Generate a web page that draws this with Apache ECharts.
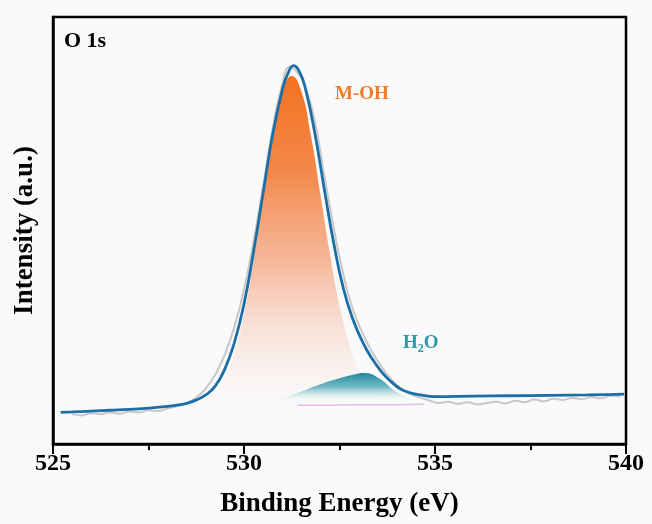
<!DOCTYPE html>
<html>
<head>
<meta charset="utf-8">
<script src="https://cdn.jsdelivr.net/npm/echarts@6/dist/echarts.min.js"></script>
<style>
  html, body { margin: 0; padding: 0; background: #fafafa; }
  #main { width: 652px; height: 524px; }
</style>
</head>
<body>
<div id="main"></div>
<script>
// binding energy ticks
var xTicks = [525, 530, 535, 540];

// envelope (fit sum)
var envX = [525.2, 525.5, 526, 526.5, 527, 527.5, 528, 528.25, 528.5, 528.75, 529, 529.25, 529.5, 529.75,
  530, 530.25, 530.5, 530.75, 531, 531.15, 531.3, 531.45, 531.6, 531.85, 532.1, 532.35, 532.6, 532.85,
  533.1, 533.35, 533.6, 533.85, 534.1, 534.35, 534.6, 535, 536, 537, 538, 539, 539.95];
var envY = [7.4, 7.5, 7.7, 7.9, 8.1, 8.4, 8.8, 9.1, 9.5, 10.3, 11.5, 13.6, 17.6, 23.8,
  32.8, 45.0, 58.8, 72.5, 82.8, 86.8, 88.6, 87.2, 83.5, 73.0, 59.8, 47.0, 36.5, 29.2,
  24.0, 20.0, 16.9, 14.6, 12.9, 12.0, 11.5, 11.1, 11.2, 11.3, 11.4, 11.5, 11.7];

// raw spectrum
var rawX = [525.5, 525.75, 526, 526.25, 526.5, 526.75, 527, 527.25, 527.5, 527.75, 528, 528.25, 528.5, 528.75,
  529, 529.25, 529.5, 529.75, 530, 530.25, 530.5, 530.75, 531, 531.2, 531.4, 531.6, 531.85, 532.1, 532.35,
  532.6, 532.85, 533.1, 533.35, 533.6, 533.85, 534.1, 534.35, 534.6, 534.85, 535.1, 535.35, 535.6, 535.85,
  536.1, 536.35, 536.6, 536.85, 537.1, 537.35, 537.6, 537.85, 538.1, 538.35, 538.6, 538.85, 539.1, 539.35,
  539.6, 539.85];
var rawY = [7.0, 6.7, 7.2, 7.0, 7.4, 7.1, 7.6, 7.4, 7.9, 7.7, 8.3, 8.9, 9.6, 10.9,
  13.0, 16.3, 21.0, 27.5, 36.2, 47.4, 60.4, 73.8, 84.2, 88.3, 87.0, 83.6, 75.8, 63.0, 50.6,
  39.8, 31.5, 26.0, 21.6, 18.1, 15.2, 13.0, 11.7, 10.9, 10.2, 9.6, 9.9, 9.4, 9.8,
  9.3, 9.6, 9.9, 9.5, 10.1, 9.8, 10.4, 10.0, 10.6, 10.3, 10.8, 10.5, 11.0, 10.7,
  11.3, 11.1];

// M-OH component
var mohX = [528, 528.5, 529, 529.25, 529.5, 529.75, 530, 530.25, 530.5, 530.75, 531, 531.25, 531.5, 531.75,
  532, 532.25, 532.5, 532.75, 533, 533.25, 533.5, 534];
var mohY = [8.8, 9.1, 10.2, 12.0, 15.5, 21.5, 30.5, 43.0, 57.5, 71.2, 82.0, 86.2, 82.6, 72.3,
  58.5, 44.5, 32.5, 23.5, 17.5, 13.5, 11.2, 9.6];

// H2O component
var h2oX = [529.5, 530, 530.5, 531, 531.5, 532, 532.5, 533, 533.1, 533.5, 534, 534.5, 535];
var h2oY = [9.0, 9.2, 9.7, 10.8, 12.3, 14.0, 15.4, 16.5, 16.6, 15.6, 12.2, 10.3, 9.8];

// background line
var bgX = [531.4, 532, 533, 534, 534.7];
var bgY = [9.1, 9.1, 9.2, 9.2, 9.3];

function zip(xs, ys) {
  return xs.map(function (x, i) { return [x, ys[i]]; });
}

var serif = 'Liberation Serif';
var chart = echarts.init(document.getElementById('main'));

var option = {
  backgroundColor: '#fafafa',
  animation: false,
  grid: {
    left: 53, right: 26, top: 17, bottom: 80,
    show: true, borderColor: '#000', borderWidth: 2.5, backgroundColor: 'transparent'
  },
  xAxis: {
    type: 'value',
    min: xTicks[0],
    max: xTicks[xTicks.length - 1],
    interval: 5,
    name: 'Binding Energy (eV)',
    nameLocation: 'middle',
    nameGap: 47,
    nameTextStyle: { fontFamily: serif, fontWeight: 'bold', fontSize: 27, color: '#000' },
    axisLine: { lineStyle: { color: '#000', width: 2.5 } },
    axisTick: { show: true, inside: false, length: 10, lineStyle: { color: '#000', width: 2 } },
    minorTick: { show: true, splitNumber: 2, length: 6, lineStyle: { color: '#000', width: 2 } },
    axisLabel: { fontFamily: serif, fontWeight: 'bold', fontSize: 24, color: '#000', margin: 8 },
    splitLine: { show: false }
  },
  yAxis: {
    type: 'value',
    min: 0,
    max: 100,
    name: 'Intensity (a.u.)',
    nameLocation: 'middle',
    nameGap: 14,
    nameTextStyle: { fontFamily: serif, fontWeight: 'bold', fontSize: 27, color: '#000' },
    axisLine: { show: true, lineStyle: { color: '#000', width: 2.5 } },
    axisTick: { show: false },
    axisLabel: { show: false },
    splitLine: { show: false }
  },
  graphic: [
    { type: 'text', left: 64, top: 30,
      style: { text: 'O 1s', font: 'bold 22px "Liberation Serif"', fill: '#000' } },
    { type: 'text', left: 335, top: 85,
      style: { text: 'M-OH', font: 'bold 19px "Liberation Serif"', fill: '#ef7a2c' } },
    { type: 'text', left: 403, top: 334,
      style: {
        text: '{n|H}{s|2}{n|O}',
        rich: {
          n: { fontFamily: serif, fontWeight: 'bold', fontSize: 19, fill: '#2a9aa8', color: '#2a9aa8' },
          s: { fontFamily: serif, fontWeight: 'bold', fontSize: 12, fill: '#2a9aa8', color: '#2a9aa8', padding: [10, 0, 0, 0] }
        }
      } }
  ],
  series: [
    {
      name: 'M-OH', type: 'line', smooth: true, showSymbol: false, z: 1,
      data: zip(mohX, mohY),
      lineStyle: { width: 0 },
      areaStyle: {
        opacity: 1,
        color: new echarts.graphic.LinearGradient(0, 0, 0, 1, [
          { offset: 0, color: 'rgba(243,115,32,1)' },
          { offset: 0.25, color: 'rgba(243,128,62,0.95)' },
          { offset: 0.5, color: 'rgba(244,160,120,0.75)' },
          { offset: 0.7, color: 'rgba(246,200,180,0.45)' },
          { offset: 0.84, color: 'rgba(250,232,226,0.25)' },
          { offset: 0.92, color: 'rgba(255,255,255,0)' },
          { offset: 1, color: 'rgba(255,255,255,0)' }
        ])
      }
    },
    {
      name: 'H2O', type: 'line', smooth: true, showSymbol: false, z: 2,
      data: zip(h2oX, h2oY),
      lineStyle: { width: 0 },
      areaStyle: {
        opacity: 1,
        color: new echarts.graphic.LinearGradient(0, 0, 0, 1, [
          { offset: 0, color: 'rgba(30,138,158,1)' },
          { offset: 0.2, color: 'rgba(60,160,176,0.7)' },
          { offset: 0.42, color: 'rgba(255,255,255,0)' },
          { offset: 1, color: 'rgba(255,255,255,0)' }
        ])
      }
    },
    {
      name: 'Background', type: 'line', smooth: true, showSymbol: false, z: 3,
      data: zip(bgX, bgY),
      lineStyle: { color: '#e6bde6', width: 1.5 }
    },
    {
      name: 'Raw', type: 'line', smooth: true, showSymbol: false, z: 4,
      data: zip(rawX, rawY),
      lineStyle: { color: '#c8c8c8', width: 2 }
    },
    {
      name: 'Envelope', type: 'line', smooth: true, showSymbol: false, z: 5,
      data: zip(envX, envY),
      lineStyle: { color: '#1c6ea6', width: 2.8 }
    }
  ]
};

chart.setOption(option);
</script>
</body>
</html>
